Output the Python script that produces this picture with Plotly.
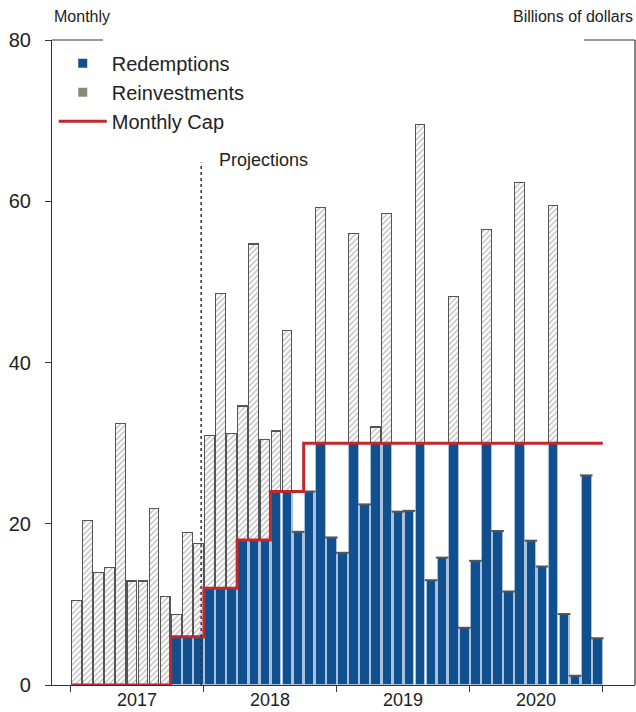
import plotly.graph_objects as go

months = list(range(48))  # Jan 2017 .. Dec 2020
years = ["2017", "2018", "2019", "2020"]

redemptions = [0, 0, 0, 0, 0, 0, 0, 0, 0, 6, 6, 6,
               12, 12, 12, 18, 18, 18, 24, 24, 19, 24, 30, 18.3,
               16.4, 30, 22.4, 30, 30, 21.5, 21.6, 30, 13.0, 15.8, 30, 7.1,
               15.4, 30, 19.1, 11.6, 30, 17.9, 14.7, 30, 8.8, 1.15, 26.0, 5.8]

reinvestments = [10.5, 20.4, 13.9, 14.6, 32.4, 12.9, 12.9, 21.9, 11.0, 2.8, 12.9, 11.6,
                 19.0, 36.6, 19.2, 16.6, 36.7, 12.5, 7.5, 20.0, 0, 0, 29.2, 0,
                 0, 26.0, 0, 2.0, 28.5, 0, 0, 39.5, 0, 0, 18.2, 0,
                 0, 26.5, 0, 0, 32.3, 0, 0, 29.5, 0, 0, 0, 0]

monthly_cap = [0] * 9 + [6] * 3 + [12] * 3 + [18] * 3 + [24] * 3 + [30] * 27

yticks = [0, 20, 40, 60, 80]

BLUE = "#10508e"
RED = "#c1272d"
FONT = "Arial, Liberation Sans, sans-serif"

fig = go.Figure()

fig.add_trace(go.Bar(
    x=months, y=redemptions, name="Redemptions", showlegend=False,
    marker=dict(color=BLUE, line=dict(color="#a8c0da", width=1.2)),
))
fig.add_trace(go.Bar(
    x=months, y=reinvestments, name="Reinvestments", showlegend=False,
    marker=dict(color="white", line=dict(color="#555555", width=1.1),
                pattern=dict(shape="/", fgcolor="#6f6f6f", bgcolor="white",
                             size=4, solidity=0.32)),
))

# thin dark cap on blue bars that have no reinvestment
top_x = [m for m, r, v in zip(months, redemptions, reinvestments) if v == 0 and r > 0]
top_y = [r for r, v in zip(redemptions, reinvestments) if v == 0 and r > 0]
fig.add_trace(go.Scatter(
    x=top_x, y=top_y, mode="markers", showlegend=False, hoverinfo="skip",
    marker=dict(symbol="line-ew", size=9, line=dict(color="#555555", width=2)),
))

cap_x = [m - 0.5 for m in months] + [months[-1] + 0.5]
cap_y = monthly_cap + [monthly_cap[-1]]
fig.add_trace(go.Scatter(
    x=cap_x, y=cap_y, mode="lines", line=dict(color=RED, width=3, shape="hv"),
    name="Monthly Cap", showlegend=False,
))

# legend entries
fig.add_trace(go.Scatter(x=[None], y=[None], mode="markers", name="Redemptions",
                         marker=dict(symbol="square", size=9, color=BLUE)))
fig.add_trace(go.Scatter(x=[None], y=[None], mode="markers", name="Reinvestments",
                         marker=dict(symbol="square", size=9, color="#8c8878")))
fig.add_trace(go.Scatter(x=[None], y=[None], mode="lines", name="Monthly Cap",
                         line=dict(color=RED, width=3)))

year_bounds = [-0.5, 11.5, 23.5, 35.5, 47.5]
annotations = []
for i, yr in enumerate(years):
    annotations.append(dict(x=12 * i + 5.5, y=0, xref="x", yref="paper", yshift=-15,
                            text=yr, showarrow=False, yanchor="middle",
                            font=dict(size=18, color="#222", family=FONT)))
annotations += [
    dict(x=0, y=1.036, xref="paper", yref="paper", text="Monthly", showarrow=False,
         xanchor="left", yanchor="middle", font=dict(size=16, color="#222", family=FONT)),
    dict(x=1, y=1.036, xref="paper", yref="paper", text="Billions of dollars", showarrow=False,
         xanchor="right", yanchor="middle", font=dict(size=16, color="#222", family=FONT)),
    dict(x=12.7, y=65.1, xref="x", yref="y", text="Projections", showarrow=False,
         xanchor="left", yanchor="middle", font=dict(size=18, color="#222", family=FONT)),
]

shapes = [
    dict(type="line", xref="x", yref="y", x0=11.25, x1=11.25, y0=0, y1=64.8,
         line=dict(color="#333", width=1.5, dash="dot")),
    dict(type="line", xref="paper", yref="paper", x0=0, x1=0.0875, y0=1, y1=1,
         line=dict(color="#333", width=1.2)),
    dict(type="line", xref="paper", yref="paper", x0=0.9125, x1=1, y0=1, y1=1,
         line=dict(color="#333", width=1.2)),
    dict(type="line", xref="paper", yref="paper", x0=1, x1=1, y0=0, y1=1,
         line=dict(color="#333", width=1.2)),
]

fig.update_layout(
    width=636, height=712,
    margin=dict(l=52, r=1, t=40, b=27, autoexpand=False),
    paper_bgcolor="white", plot_bgcolor="white",
    barmode="stack", bargap=0.12,
    font=dict(family=FONT, color="#222"),
    showlegend=True,
    legend=dict(x=0.003, y=0.994, xanchor="left", yanchor="top", traceorder="normal",
                bgcolor="rgba(0,0,0,0)", font=dict(size=20, family=FONT, color="#222"),
                itemwidth=48, tracegroupgap=0),
    annotations=annotations, shapes=shapes,
    xaxis=dict(range=[-2.21, 50.4], tickmode="array", tickvals=year_bounds,
               ticktext=["" for _ in year_bounds], ticks="outside", ticklen=6,
               tickcolor="#333", showline=True, linecolor="#333", linewidth=1.2,
               showgrid=False, zeroline=False, fixedrange=True, automargin=False),
    yaxis=dict(range=[0, 80], tickmode="array", tickvals=yticks, ticks="outside",
               ticklen=6, tickcolor="#333", showline=True, linecolor="#333",
               linewidth=1.2, showgrid=False, zeroline=False, automargin=False,
               fixedrange=True,
               tickfont=dict(size=20, family=FONT, color="#222"), ticklabelstandoff=10),
)

fig.write_html(
    "out.html",
    config={"displayModeBar": False, "staticPlot": False},
    post_script="document.body.style.margin='0';document.documentElement.style.overflow='hidden';",
)
